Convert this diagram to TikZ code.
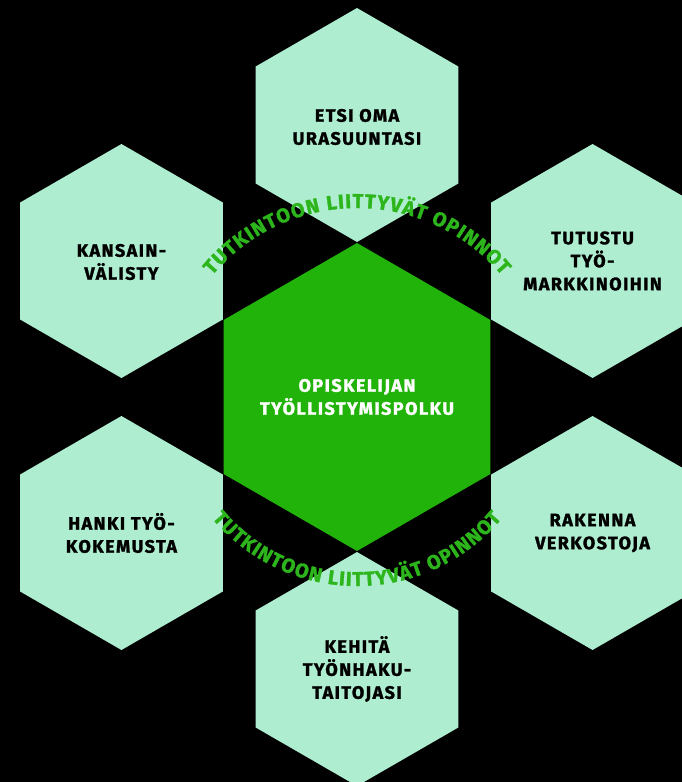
\documentclass[tikz,border=0pt]{standalone}
\usepackage{fontspec}
\setmainfont{Fira Sans}
\newfontfamily\hexfont{Fira Sans}[LetterSpace=8, BoldFeatures={FakeBold=1.5}]
\newfontfamily\arcfam{Fira Sans}[BoldFeatures={FakeBold=1.5}]
\usetikzlibrary{decorations.text,calc}
\definecolor{mint}{HTML}{AEEDD0}
\definecolor{cgreen}{HTML}{22B30A}
\definecolor{agreen}{HTML}{2DB51C}
\tikzset{
  lbl/.style={align=center, font=\hexfont\bfseries\fontsize{18pt}{23pt}\selectfont, text=black, inner sep=0pt},
  clbl/.style={lbl, text=white},
  arctext/.style={decorate, decoration={text along path, text align=fit to path, text={|\arcfont|#1}}},
}
\newcommand{\hexshape}[3]{\fill[#3] (#1) +(90:#2) -- +(150:#2) -- +(210:#2) -- +(270:#2) -- +(330:#2) -- +(30:#2) -- cycle;}
\newcommand{\arcfont}{\arcfam\bfseries\fontsize{20pt}{20pt}\selectfont\color{agreen}}
\begin{document}
\begin{tikzpicture}[x=1pt,y=1pt]
\fill[black] (0,0) rectangle (682,-782);
\useasboundingbox (0,0) rectangle (682,-782);
\coordinate (C) at (357,-397);
\coordinate (T) at ($(C)+(90:272)$);
\coordinate (UL) at ($(C)+(150:272)$);
\coordinate (UR) at ($(C)+(30:272)$);
\coordinate (LL) at ($(C)+(210:272)$);
\coordinate (LR) at ($(C)+(330:272)$);
\coordinate (B) at ($(C)+(270:272)$);
\hexshape{C}{154}{cgreen}
\hexshape{T}{117}{mint}
\hexshape{UL}{117}{mint}
\hexshape{UR}{117}{mint}
\hexshape{LL}{117}{mint}
\hexshape{LR}{117}{mint}
\hexshape{B}{117}{mint}
\node[clbl] (center) at (C) {OPISKELIJAN\\TYÖLLISTYMISPOLKU};
\node[lbl] (etsi) at ($(T)+(0,-2)$) {ETSI OMA\\URASUUNTASI};
\node[lbl] (kans) at ($(UL)+(0,-1)$) {KANSAIN-\\VÄLISTY};
\node[lbl] (tutu) at ($(UR)+(0,0)$) {TUTUSTU\\TYÖ-\\MARKKINOIHIN};
\node[lbl] (hanki) at ($(LL)+(0,0)$) {HANKI TYÖ-\\KOKEMUSTA};
\node[lbl] (rak) at ($(LR)+(0,0)$) {RAKENNA\\VERKOSTOJA};
\node[lbl] (keh) at ($(B)+(0,0)$) {KEHITÄ\\TYÖNHAKU-\\TAITOJASI};
\path[arctext={TUTKINTOON LIITTYVÄT OPINNOT}] ($(C)+(140:189)$) arc[start angle=140, end angle=40, radius=189pt];
\path[arctext={TUTKINTOON LIITTYVÄT OPINNOT}] ($(C)+(220:189)$) arc[start angle=220, end angle=320, radius=189pt];
\end{tikzpicture}
\end{document}
